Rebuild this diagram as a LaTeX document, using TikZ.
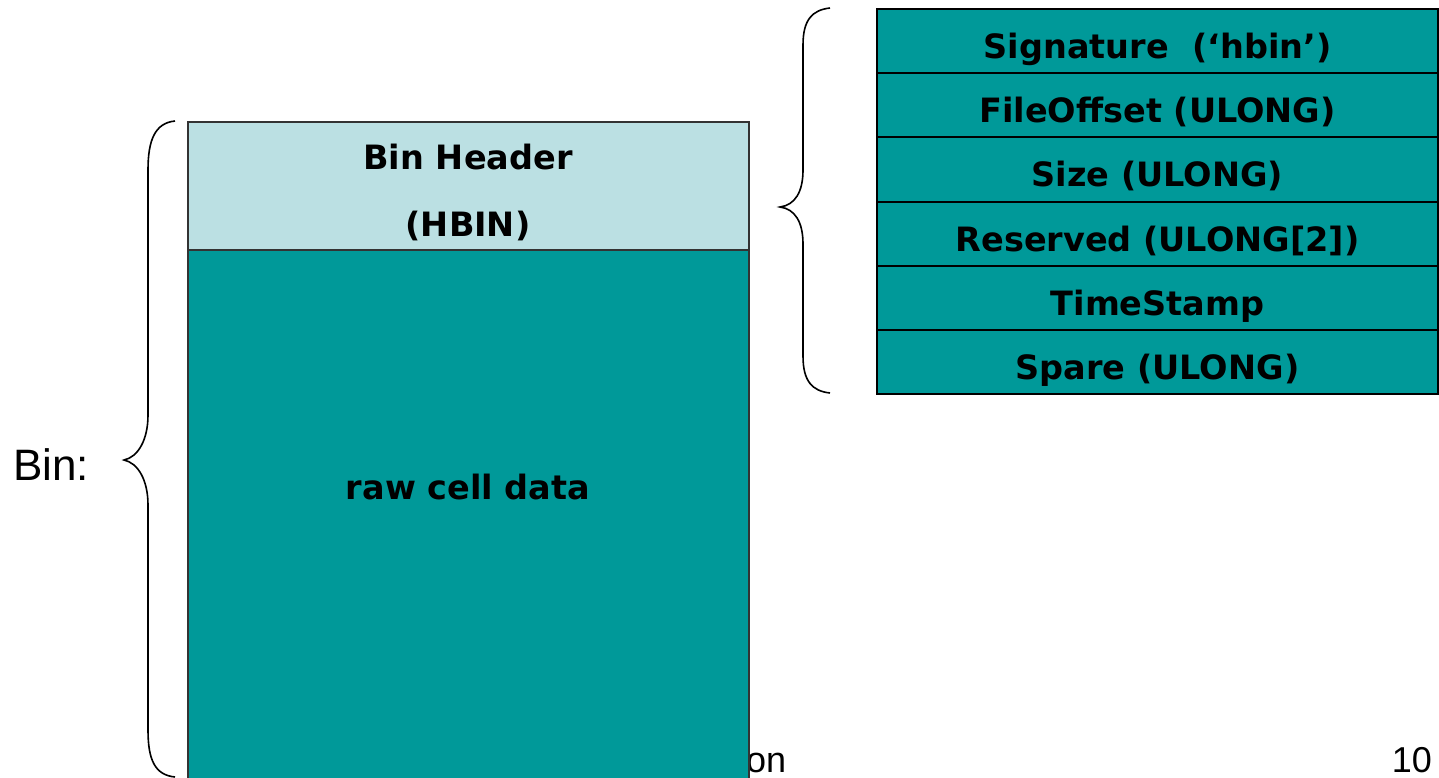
\documentclass[tikz,border=0pt]{standalone}
\usepackage{fontspec}
\setmainfont{Liberation Sans}
\newfontfamily\vfont{DejaVu Sans}
\definecolor{tealfill}{RGB}{0,153,153}
\definecolor{lightteal}{RGB}{187,224,227}
\begin{document}
\begin{tikzpicture}[x=1pt,y=-1pt,
  boxfont/.style={font=\vfont\bfseries\fontsize{33.5}{40}\selectfont},
  field/.style={draw=black,line width=2pt,fill=tealfill,minimum width=561pt,minimum height=64.17pt,inner sep=0pt,anchor=north west,boxfont,text height=35pt,text depth=0pt},
  brace/.style={draw=black,line width=1.6pt},
  plain/.style={font=\fontsize{36}{40}\selectfont,inner sep=0pt}]
\useasboundingbox (0,0) rectangle (1439,777);
\clip (0,0) rectangle (1439,777);
% footer texts (partly hidden)
\node[plain,anchor=base west] (footer) at (746,772) {on};
\node[plain,anchor=base east] (pagenum) at (1432,772) {10};
% left bin
\node[draw=black!80,line width=1.8pt,fill=lightteal,minimum width=561pt,minimum height=128pt,inner sep=0pt,anchor=north west] (header) at (187,121) {};
\node[draw=black!80,line width=1.8pt,fill=tealfill,minimum width=561pt,minimum height=580pt,inner sep=0pt,anchor=north west] (raw) at (187,249) {};
\node[boxfont,inner sep=0pt,anchor=base] (hdr1) at (468,169) {Bin Header};
\node[boxfont,inner sep=0pt,anchor=base] (hdr2) at (468,236) {(HBIN)};
\node[boxfont,inner sep=0pt,anchor=base] (rawlabel) at (468,499) {raw cell data};
\node[plain,font=\fontsize{44}{48}\selectfont,anchor=west] (binlabel) at (13,465) {Bin:};
% right fields
\node[field] (f1) at (876,8) {Signature~~(‘hbin’)};
\node[field] (f2) at (876,72.17) {FileOffset (ULONG)};
\node[field] (f3) at (876,136.33) {Size (ULONG)};
\node[field] (f4) at (876,200.5) {Reserved (ULONG[2])};
\node[field] (f5) at (876,264.67) {TimeStamp};
\node[field] (f6) at (876,328.83) {Spare (ULONG)};
% left brace
\draw[brace] (175,121) .. controls (155,123) and (148,140) .. (148,170)
  -- (148,415) .. controls (148,440) and (138,457) .. (124,460)
  .. controls (138,463) and (148,480) .. (148,505)
  -- (148,730) .. controls (148,760) and (155,775) .. (175,777);
% right brace
\draw[brace] (830,8) .. controls (812,10) and (803,20) .. (803,45)
  -- (803,170) .. controls (803,192) and (795,205) .. (780,207)
  .. controls (795,209) and (803,222) .. (803,244)
  -- (803,356) .. controls (803,381) and (812,391) .. (830,393);
\end{tikzpicture}
\end{document}
